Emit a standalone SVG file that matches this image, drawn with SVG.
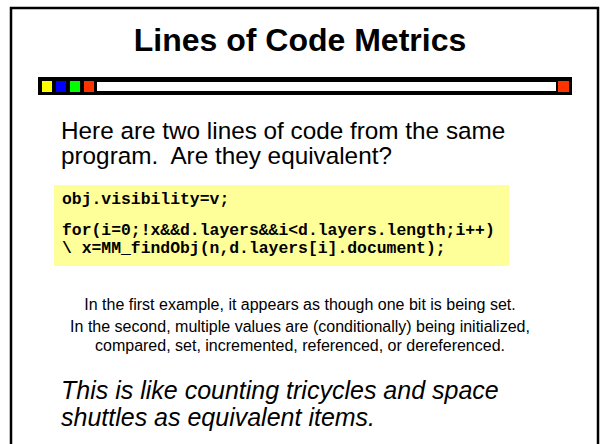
<svg xmlns="http://www.w3.org/2000/svg" width="600" height="444" viewBox="0 0 600 444">
<style>
.t{font-family:"Liberation Sans",Arial,sans-serif;fill:#000}
.title{font-size:32px;font-weight:bold;text-anchor:middle}
.body{font-size:24.3px}
.small{font-size:16px;text-anchor:middle}
.ital{font-size:25px;font-style:italic}
.code{font-family:"Liberation Mono","Courier New",monospace;font-weight:bold;font-size:16.4px;fill:#000}
</style>
<rect width="600" height="444" fill="#fff"/>
<g id="frame">
<path d="M11,444 V8 H598 V444" fill="none" stroke="#000" stroke-width="2.5"/>
</g>
<g id="title">
<text class="t title" x="300" y="51">Lines of Code Metrics</text>
</g>
<g id="bar">
<rect x="38" y="77" width="534" height="18" fill="#000"/>
<rect x="97" y="82" width="459" height="9" fill="#fff"/>
<rect x="42" y="81" width="10" height="11" fill="#ffff00"/>
<rect x="56" y="81" width="10" height="11" fill="#0000ff"/>
<rect x="70" y="81" width="10" height="11" fill="#00ff00"/>
<rect x="84" y="81" width="10" height="11" fill="#ff3300"/>
<rect x="558" y="81" width="11" height="11" fill="#ff3300"/>
</g>
<g id="intro">
<text class="t body" x="61" y="139">Here are two lines of code from the same</text>
<text class="t body" x="61" y="164" xml:space="preserve">program.  Are they equivalent?</text>
</g>
<g id="codebox">
<rect x="54" y="185" width="455" height="81" fill="#ffff99"/>
<text class="code" x="62" y="204">obj.visibility=v;</text>
<text class="code" x="62" y="235">for(i=0;!x&amp;&amp;d.layers&amp;&amp;i&lt;d.layers.length;i++)</text>
<text class="code" x="62" y="253">\ x=MM_findObj(n,d.layers[i].document);</text>
</g>
<g id="notes">
<text class="t small" x="300" y="310">In the first example, it appears as though one bit is being set.</text>
<text class="t small" x="300" y="332">In the second, multiple values are (conditionally) being initialized,</text>
<text class="t small" x="300" y="351">compared, set, incremented, referenced, or dereferenced.</text>
</g>
<g id="closing">
<text class="t ital" x="61" y="399">This is like counting tricycles and space</text>
<text class="t ital" x="61" y="426">shuttles as equivalent items.</text>
</g>
</svg>
